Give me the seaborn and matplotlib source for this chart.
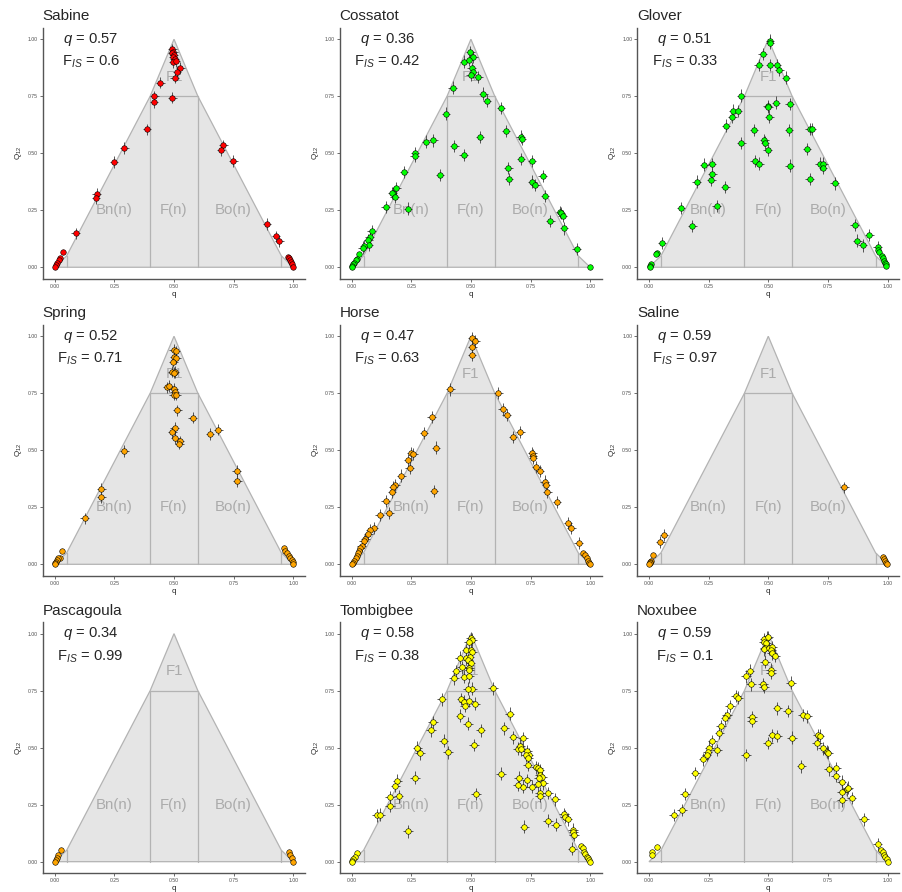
import numpy as np
import pandas as pd
import matplotlib
matplotlib.use("Agg")
import matplotlib.pyplot as plt
import seaborn as sns

# ---------------- data ----------------
POPS = ["Sabine", "Cossatot", "Glover", "Spring", "Horse", "Saline",
        "Pascagoula", "Tombigbee", "Noxubee"]
COLORS = ["#ff0000", "#00ff00", "#00ff00", "#ffa500", "#ffa500", "#ffa500",
          "#ffa500", "#ffff00", "#ffff00"]
Q_ANNOT = ["0.57", "0.36", "0.51", "0.52", "0.47", "0.59", "0.34", "0.58", "0.59"]
FIS_ANNOT = ["0.6", "0.42", "0.33", "0.71", "0.63", "0.97", "0.99", "0.38", "0.1"]
Q_ERR = [0.018, 0.018, 0.018, 0.018, 0.018, 0.018, 0.018, 0.02, 0.02]
Q12_ERR = [0.025, 0.027, 0.027, 0.025, 0.027, 0.025, 0.025, 0.028, 0.028]

# class regions of the triangle plot
TRI_Q = [0.0, 0.05, 0.4, 0.5, 0.6, 0.95, 1.0]
TRI_Q12 = [0.0, 0.05, 0.75, 1.0, 0.75, 0.05, 0.0]
CLASS_NAMES = ["F1", "Bn(n)", "F(n)", "Bo(n)"]
CLASS_Q = [0.5, 0.25, 0.5, 0.75]
CLASS_Q12 = [0.835, 0.25, 0.25, 0.25]

SABINE_Q = [0.493, 0.497, 0.492, 0.500, 0.496, 0.503, 0.497, 0.508,
            0.527, 0.513, 0.503, 0.443, 0.418, 0.416, 0.493, 0.387, 0.292, 0.249, 0.176, 0.173, 0.088, 0.034,
            0.022, 0.017, 0.011, 0.006, 0.001,
            0.707, 0.697, 0.749, 0.890, 0.927, 0.941,
            0.979, 0.983, 0.987, 0.992, 0.996, 1.0]
SABINE_Q12 = [0.956, 0.943, 0.939, 0.931, 0.924, 0.915, 0.900, 0.905,
              0.873, 0.858, 0.832, 0.810, 0.750, 0.725, 0.744, 0.605, 0.523, 0.461, 0.322, 0.304, 0.149, 0.066,
              0.042, 0.032, 0.020, 0.010, 0.003,
              0.534, 0.513, 0.466, 0.190, 0.135, 0.115,
              0.047, 0.039, 0.032, 0.023, 0.015, 0.003]

COSSATOT_Q = [0.498, 0.510, 0.473, 0.492, 0.503, 0.508, 0.499, 0.531, 0.423, 0.552,
              0.568, 0.626, 0.395, 0.647, 0.709, 0.715, 0.538, 0.311, 0.342, 0.431,
              0.470, 0.266, 0.264, 0.371, 0.219, 0.657, 0.660, 0.710, 0.756, 0.801,
              0.757, 0.770, 0.810, 0.187, 0.174, 0.169, 0.180, 0.142, 0.237, 0.873,
              0.877, 0.884, 0.833, 0.890, 0.943, 1.0, 0.084, 0.075, 0.070, 0.071,
              0.052, 0.046, 0.032, 0.021, 0.018, 0.011, 0.007, 0.003, 0.0]
COSSATOT_Q12 = [0.943, 0.921, 0.902, 0.909, 0.874, 0.858, 0.842, 0.833, 0.788, 0.762,
                0.731, 0.699, 0.674, 0.598, 0.573, 0.561, 0.570, 0.551, 0.556, 0.532,
                0.491, 0.499, 0.488, 0.406, 0.417, 0.434, 0.386, 0.474, 0.465, 0.399,
                0.376, 0.361, 0.313, 0.346, 0.325, 0.325, 0.308, 0.265, 0.257, 0.243,
                0.237, 0.225, 0.203, 0.170, 0.080, 0.0, 0.158, 0.132, 0.121, 0.099,
                0.094, 0.086, 0.060, 0.038, 0.032, 0.020, 0.013, 0.006, 0.0]

GLOVER_Q = [0.508, 0.508, 0.477, 0.460, 0.508, 0.536, 0.547, 0.575, 0.385, 0.533,
            0.590, 0.497, 0.500, 0.354, 0.373, 0.350, 0.505, 0.322, 0.441, 0.587,
            0.673, 0.684, 0.387, 0.483, 0.486, 0.497, 0.662, 0.443, 0.463, 0.589,
            0.715, 0.731, 0.729, 0.232, 0.264, 0.266, 0.262, 0.200, 0.320, 0.674,
            0.778, 0.283, 0.134, 0.182, 0.862, 0.873, 0.895, 0.924, 0.959, 0.962,
            0.963, 0.978, 0.980, 0.985, 0.989, 0.993, 0.994, 0.055, 0.034, 0.031,
            0.010, 0.006, 0.003]
GLOVER_Q12 = [0.994, 0.985, 0.936, 0.887, 0.887, 0.887, 0.865, 0.832, 0.753, 0.722,
              0.716, 0.708, 0.702, 0.687, 0.684, 0.659, 0.661, 0.621, 0.601, 0.601,
              0.605, 0.605, 0.545, 0.558, 0.547, 0.513, 0.519, 0.466, 0.455, 0.446,
              0.455, 0.455, 0.436, 0.450, 0.453, 0.408, 0.382, 0.376, 0.351, 0.387,
              0.368, 0.269, 0.259, 0.181, 0.186, 0.117, 0.096, 0.142, 0.088, 0.076,
              0.069, 0.050, 0.039, 0.029, 0.020, 0.013, 0.007, 0.105, 0.064, 0.056,
              0.013, 0.006, 0.0]

SPRING_Q = [0.499, 0.507, 0.500, 0.510, 0.497, 0.493, 0.503, 0.500, 0.472, 0.479,
            0.499, 0.503, 0.499, 0.510, 0.514, 0.578, 0.503, 0.493, 0.504, 0.525,
            0.522, 0.651, 0.686, 0.763, 0.765, 0.292, 0.196, 0.196, 0.126, 0.031,
            0.021, 0.015, 0.011, 0.006, 0.003, 0.0, 0.961, 0.966, 0.973, 0.980,
            0.987, 0.993, 0.997, 1.0]
SPRING_Q12 = [0.940, 0.934, 0.909, 0.905, 0.889, 0.845, 0.843, 0.840, 0.776, 0.782,
              0.769, 0.754, 0.744, 0.744, 0.675, 0.643, 0.597, 0.578, 0.553, 0.539,
              0.529, 0.572, 0.591, 0.410, 0.365, 0.496, 0.332, 0.293, 0.201, 0.060,
              0.029, 0.026, 0.018, 0.012, 0.006, 0.0, 0.070, 0.059, 0.048, 0.038,
              0.026, 0.018, 0.009, 0.0]

HORSE_Q = [0.506, 0.519, 0.506, 0.505, 0.414, 0.615, 0.633, 0.650, 0.335, 0.707,
           0.676, 0.304, 0.354, 0.250, 0.259, 0.236, 0.243, 0.208, 0.757, 0.760,
           0.760, 0.774, 0.790, 0.809, 0.815, 0.821, 0.861, 0.346, 0.183, 0.174,
           0.170, 0.142, 0.117, 0.158, 0.092, 0.077, 0.070, 0.057, 0.050, 0.042,
           0.036, 0.032, 0.026, 0.021, 0.017, 0.010, 0.004, 0.907, 0.921, 0.951,
           0.971, 0.978, 0.985, 0.992, 0.997, 0.0, 1.0]
HORSE_Q12 = [0.993, 0.978, 0.952, 0.919, 0.767, 0.750, 0.679, 0.656, 0.647, 0.581,
             0.559, 0.577, 0.512, 0.486, 0.483, 0.457, 0.423, 0.389, 0.486, 0.477,
             0.466, 0.426, 0.410, 0.363, 0.346, 0.319, 0.274, 0.321, 0.348, 0.337,
             0.319, 0.277, 0.217, 0.224, 0.158, 0.151, 0.132, 0.110, 0.100, 0.081,
             0.070, 0.059, 0.048, 0.038, 0.026, 0.016, 0.006, 0.182, 0.160, 0.092,
             0.051, 0.041, 0.026, 0.015, 0.006, 0.0, 0.0]

SALINE_Q = [0.063, 0.047, 0.018, 0.008, 0.004, 0.003, 0.0, 0.819, 0.979, 0.986, 0.990, 0.994, 0.999]
SALINE_Q12 = [0.129, 0.097, 0.040, 0.016, 0.012, 0.006, 0.0, 0.338, 0.034, 0.023, 0.015, 0.007, 0.0]

PASCAGOULA_Q = [0.025, 0.014, 0.008, 0.004, 0.0, 0.980, 0.986, 0.993, 0.999]
PASCAGOULA_Q12 = [0.051, 0.029, 0.018, 0.007, 0.0, 0.042, 0.029, 0.015, 0.0]

TOMBIGBEE_Q = [0.499, 0.506, 0.492, 0.481, 0.499, 0.505, 0.455, 0.480, 0.495, 0.487,
               0.499, 0.462, 0.492, 0.439, 0.494, 0.473, 0.494, 0.430, 0.505, 0.487,
               0.593, 0.377, 0.460, 0.469, 0.492, 0.476, 0.519, 0.662, 0.456, 0.342,
               0.332, 0.488, 0.541, 0.640, 0.678, 0.718, 0.386, 0.276, 0.287, 0.403,
               0.512, 0.696, 0.707, 0.708, 0.736, 0.742, 0.731, 0.741, 0.738, 0.771,
               0.782, 0.788, 0.788, 0.798, 0.802, 0.785, 0.781, 0.788, 0.790, 0.756,
               0.718, 0.735, 0.700, 0.697, 0.625, 0.823, 0.854, 0.265, 0.192, 0.183,
               0.160, 0.197, 0.160, 0.105, 0.119, 0.236, 0.522, 0.724, 0.822, 0.856,
               0.891, 0.895, 0.905, 0.927, 0.930, 0.932, 0.925, 0.962, 0.968, 0.976,
               0.977, 0.986, 0.992, 0.997, 1.000, 0.021, 0.014, 0.007, 0.001, 0.000]
TOMBIGBEE_Q12 = [0.980, 0.974, 0.965, 0.928, 0.928, 0.918, 0.895, 0.892, 0.898, 0.885,
                 0.870, 0.852, 0.851, 0.836, 0.839, 0.811, 0.813, 0.804, 0.759, 0.759,
                 0.760, 0.712, 0.713, 0.702, 0.705, 0.684, 0.693, 0.649, 0.640, 0.613,
                 0.577, 0.605, 0.577, 0.585, 0.545, 0.541, 0.531, 0.500, 0.475, 0.480,
                 0.512, 0.496, 0.509, 0.493, 0.484, 0.469, 0.466, 0.453, 0.424, 0.414,
                 0.409, 0.402, 0.380, 0.370, 0.344, 0.368, 0.339, 0.301, 0.288, 0.329,
                 0.329, 0.357, 0.368, 0.336, 0.386, 0.301, 0.273, 0.368, 0.355, 0.332,
                 0.284, 0.287, 0.244, 0.203, 0.206, 0.133, 0.297, 0.154, 0.180, 0.162,
                 0.209, 0.197, 0.186, 0.140, 0.129, 0.118, 0.057, 0.070, 0.061, 0.041,
                 0.032, 0.022, 0.015, 0.007, 0.000, 0.037, 0.022, 0.012, 0.003, 0.000]

NOXUBEE_Q = [0.494, 0.484, 0.500, 0.480, 0.491, 0.487, 0.484, 0.501, 0.517, 0.512,
             0.516, 0.530, 0.487, 0.422, 0.406, 0.512, 0.512, 0.427, 0.477, 0.483,
             0.596, 0.364, 0.375, 0.340, 0.326, 0.320, 0.301, 0.295, 0.266, 0.253,
             0.246, 0.242, 0.228, 0.285, 0.194, 0.151, 0.138, 0.103, 0.431, 0.431,
             0.538, 0.583, 0.646, 0.663, 0.517, 0.536, 0.498, 0.600, 0.407, 0.708,
             0.715, 0.705, 0.729, 0.745, 0.750, 0.639, 0.755, 0.785, 0.782, 0.807,
             0.808, 0.829, 0.835, 0.849, 0.810, 0.902, 0.958, 0.973, 0.979, 0.985,
             0.990, 0.996, 1.000, 0.032, 0.014, 0.014]
NOXUBEE_Q12 = [0.982, 0.977, 0.985, 0.965, 0.961, 0.939, 0.931, 0.936, 0.940, 0.928,
               0.914, 0.904, 0.877, 0.838, 0.813, 0.842, 0.827, 0.778, 0.778, 0.766,
               0.785, 0.727, 0.719, 0.683, 0.643, 0.629, 0.595, 0.566, 0.529, 0.500,
               0.480, 0.468, 0.449, 0.490, 0.389, 0.297, 0.227, 0.205, 0.633, 0.617,
               0.673, 0.661, 0.643, 0.637, 0.554, 0.551, 0.520, 0.544, 0.468, 0.556,
               0.553, 0.519, 0.497, 0.482, 0.478, 0.418, 0.405, 0.409, 0.377, 0.351,
               0.307, 0.317, 0.325, 0.279, 0.270, 0.186, 0.077, 0.050, 0.041, 0.029,
               0.019, 0.010, 0.000, 0.066, 0.041, 0.031]

ALL_Q = [SABINE_Q, COSSATOT_Q, GLOVER_Q, SPRING_Q, HORSE_Q, SALINE_Q,
         PASCAGOULA_Q, TOMBIGBEE_Q, NOXUBEE_Q]
ALL_Q12 = [SABINE_Q12, COSSATOT_Q12, GLOVER_Q12, SPRING_Q12, HORSE_Q12, SALINE_Q12,
           PASCAGOULA_Q12, TOMBIGBEE_Q12, NOXUBEE_Q12]

# ---------------- style ----------------
sns.set_theme(style="white")
plt.rcParams["font.family"] = ["Liberation Sans", "DejaVu Sans"]
plt.rcParams["mathtext.fontset"] = "custom"
plt.rcParams["mathtext.rm"] = "Liberation Sans"
plt.rcParams["mathtext.it"] = "Liberation Sans:italic"

fig = plt.figure(figsize=(9.03, 8.92), dpi=100)
LEFTS = [0.0474, 0.3762, 0.7055]
BOTTOMS = [0.6876, 0.3546, 0.0212]
W, H = 0.2906, 0.2812
REGION_FILL = "#e5e5e5"
REGION_LINE = "#b3b3b3"
REGION_TEXT = "#ababab"

for i, pop in enumerate(POPS):
    r, c = divmod(i, 3)
    ax = fig.add_axes([LEFTS[c], BOTTOMS[r], W, H])
    df = pd.DataFrame({"q": ALL_Q[i], "Q12": ALL_Q12[i]})

    # triangle class regions
    ax.fill(TRI_Q, TRI_Q12, facecolor=REGION_FILL, edgecolor=REGION_LINE, lw=0.9, zorder=0)
    ax.plot([0.05, 0.05], [0, 0.05], color=REGION_LINE, lw=0.9, zorder=0.5)
    ax.plot([0.95, 0.95], [0, 0.05], color=REGION_LINE, lw=0.9, zorder=0.5)
    ax.plot([0.4, 0.4], [0, 0.75], color=REGION_LINE, lw=0.9, zorder=0.5)
    ax.plot([0.6, 0.6], [0, 0.75], color=REGION_LINE, lw=0.9, zorder=0.5)
    ax.plot([0.4, 0.6], [0.75, 0.75], color=REGION_LINE, lw=0.9, zorder=0.5)
    for name, cx, cy in zip(CLASS_NAMES, CLASS_Q, CLASS_Q12):
        ax.text(cx, cy, name, color=REGION_TEXT, fontsize=10.8, ha="center",
                va="center", zorder=1)

    # error bars (not visible for the near-parental corners)
    inner = (df["q"] > 0.04) & (df["q"] < 0.96)
    xe = np.where(inner, Q_ERR[i], 0.004)
    ye = np.where(inner, Q12_ERR[i], 0.004)
    ax.errorbar(df["q"], df["Q12"], xerr=xe, yerr=ye, fmt="none",
                ecolor="#3a3a3a", elinewidth=0.7, capsize=0, alpha=0.85, zorder=2)

    sns.scatterplot(data=df, x="q", y="Q12", ax=ax, color=COLORS[i],
                    edgecolor="black", linewidth=0.4, s=16, zorder=3, legend=False)

    ax.text(0.15, 1.0, rf"$q$ = {Q_ANNOT[i]}", fontsize=10.6, ha="center",
            va="center", zorder=4)
    ax.text(0.15, 0.90, rf"F$_{{IS}}$ = {FIS_ANNOT[i]}", fontsize=10.6, ha="center",
            va="center", zorder=4)

    ax.set_xlim(-0.05, 1.05)
    ax.set_ylim(-0.05, 1.05)
    ticks = [0.0, 0.25, 0.5, 0.75, 1.0]
    ax.set_xticks(ticks)
    ax.set_yticks(ticks)
    ax.set_xticklabels(["0.00", "0.25", "0.50", "0.75", "1.00"])
    ax.set_yticklabels(["0.00", "0.25", "0.50", "0.75", "1.00"])
    ax.tick_params(axis="both", length=2, width=0.5, color="#333333",
                   labelsize=3.7, labelcolor="#4d4d4d", pad=1.5,
                   bottom=True, left=True)
    for s in ["top", "right"]:
        ax.spines[s].set_visible(False)
    for s in ["left", "bottom"]:
        ax.spines[s].set_color("#555555")
        ax.spines[s].set_linewidth(1.0)
    ax.set_xlabel("q", fontsize=5.8, labelpad=1.5)
    ax.set_ylabel(r"Q$_{12}$", fontsize=5.8, labelpad=3)
    ax.set_title(pop, loc="left", fontsize=11, pad=5.5)
    ax.set_facecolor("white")

fig.savefig("out.png", dpi=100, facecolor="white")
